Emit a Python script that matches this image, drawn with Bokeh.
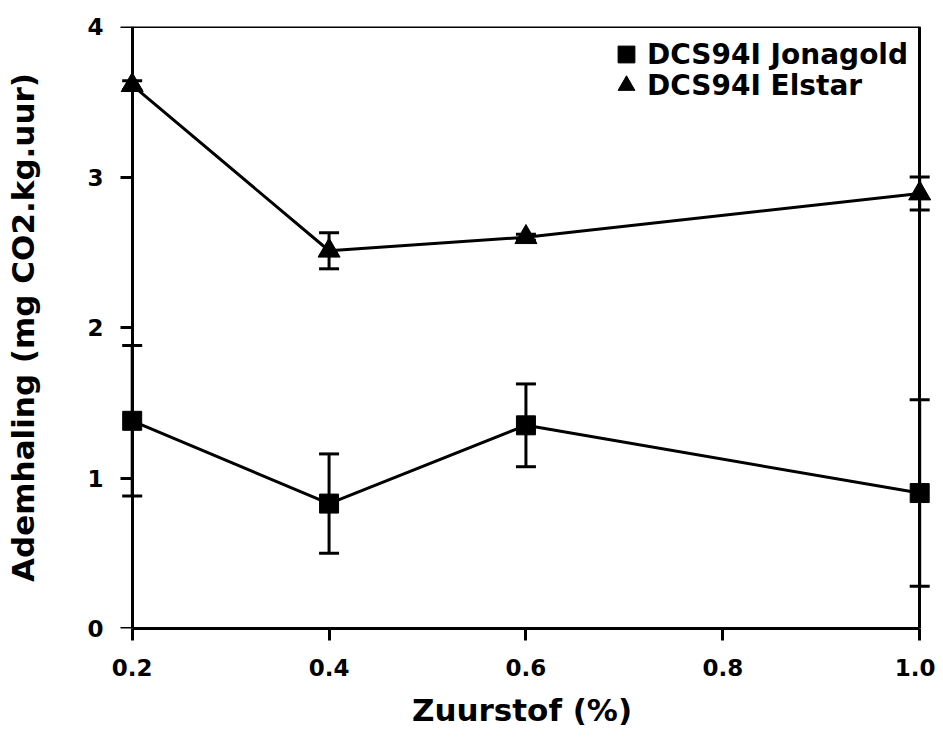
from bokeh.plotting import figure
from bokeh.models import (Range1d, FixedTicker, LinearAxis, Whisker, TeeHead,
                          ColumnDataSource, Legend, LegendItem, PrintfTickFormatter,
                          CustomJSTickFormatter)
from bokeh.embed import file_html
from bokeh.resources import INLINE

# ---- data ----
zuurstof = [0.2, 0.4, 0.6, 1.0]
jonagold = [1.38, 0.83, 1.35, 0.90]
jonagold_err = [0.50, 0.33, 0.275, 0.62]
elstar = [3.61, 2.51, 2.60, 2.89]
elstar_err = [0.03, 0.12, 0.02, 0.11]
x_ticks = [0.2, 0.4, 0.6, 0.8, 1.0]
y_ticks = [0, 1, 2, 3, 4]
series_names = ["DCS94I Jonagold", "DCS94I Elstar"]

FONT = "DejaVu Sans"

src_j = ColumnDataSource(dict(x=zuurstof, y=jonagold,
                              lo=[v - e for v, e in zip(jonagold, jonagold_err)],
                              hi=[v + e for v, e in zip(jonagold, jonagold_err)]))
src_e = ColumnDataSource(dict(x=zuurstof, y=elstar,
                              lo=[v - e for v, e in zip(elstar, elstar_err)],
                              hi=[v + e for v, e in zip(elstar, elstar_err)]))

p = figure(frame_width=819, frame_height=602,
           min_border_left=112, min_border_right=4, min_border_top=26, min_border_bottom=113,
           x_range=Range1d(0.18, 1.012), y_range=Range1d(0, 4),
           output_backend="svg", toolbar_location=None)

p.outline_line_color = None
p.grid.visible = False
p.background_fill_color = "white"

# bottom axis
xa = p.xaxis[0]
xa.ticker = FixedTicker(ticks=x_ticks)
xa.formatter = PrintfTickFormatter(format="%.1f")
xa.bounds = (0.2, 1.0)
xa.axis_label = "Zuurstof (%)"
# left axis (labels only, at frame edge)
ya = p.yaxis[0]
ya.ticker = FixedTicker(ticks=y_ticks)
ya.axis_label = "Ademhaling (mg CO2.kg.uur)"

for ax in (xa, ya):
    ax.axis_line_width = 3
    ax.axis_line_color = "black"
    ax.major_tick_line_width = 3
    ax.major_tick_line_color = "black"
    ax.major_tick_out = 12
    ax.major_tick_in = 0
    ax.minor_tick_line_color = None
    ax.major_label_text_font = FONT
    ax.major_label_text_font_style = "bold"
    ax.major_label_text_font_size = "23px"
    ax.major_label_text_color = "black"
    ax.axis_label_text_font = FONT
    ax.axis_label_text_font_style = "bold"
    ax.axis_label_text_font_size = "31px"
    ax.axis_label_text_color = "black"

ya.axis_line_color = None
ya.major_tick_line_color = None
ya.major_tick_out = 0
ya.major_label_standoff = 9
ya.axis_label_standoff = 43

xa.major_label_standoff = 18
xa.axis_label_standoff = 13

# left axis line + ticks at x = 0.2 (no labels of its own)
yline = LinearAxis(fixed_location=0.2, ticker=FixedTicker(ticks=y_ticks),
                   formatter=CustomJSTickFormatter(code="return ''"),
                   axis_line_width=3, axis_line_color="black",
                   major_tick_line_width=3, major_tick_line_color="black",
                   major_tick_out=12, major_tick_in=0, minor_tick_line_color=None)
p.add_layout(yline, "left")

# frame lines at top and right
top = LinearAxis(fixed_location=4, ticker=FixedTicker(ticks=[]), bounds=(0.2, 1.0),
                 axis_line_width=3, axis_line_color="black",
                 minor_tick_line_color=None, major_tick_line_color=None)
p.add_layout(top, "above")
right = LinearAxis(fixed_location=1.0, ticker=FixedTicker(ticks=[]),
                   axis_line_width=3, axis_line_color="black",
                   minor_tick_line_color=None, major_tick_line_color=None)
p.add_layout(right, "right")

# lines
p.line("x", "y", source=src_j, line_color="black", line_width=3)
p.line("x", "y", source=src_e, line_color="black", line_width=3)

# error bars
for src in (src_j, src_e):
    w = Whisker(source=src, base="x", lower="lo", upper="hi", dimension="height",
                line_color="black", line_width=3,
                upper_head=TeeHead(size=20, line_width=3, line_color="black"),
                lower_head=TeeHead(size=20, line_width=3, line_color="black"))
    p.add_layout(w)

sq = p.scatter("x", "y", source=src_j, marker="square", size=19,
               fill_color="black", line_color="black")
tri = p.scatter("x", "y", source=src_e, marker="triangle", size=22,
                fill_color="black", line_color="black")

legend_style = dict(padding=0, margin=0, spacing=0,
                    glyph_width=42, glyph_height=42, label_standoff=-13,
                    label_text_font=FONT, label_text_font_style="bold",
                    label_text_font_size="28px", label_text_color="black",
                    border_line_color=None, background_fill_alpha=0)
leg1 = Legend(items=[LegendItem(label=series_names[0], renderers=[sq])],
              location=(493, 553), **legend_style)
leg2 = Legend(items=[LegendItem(label=series_names[1], renderers=[tri])],
              location=(493, 522), **legend_style)
p.add_layout(leg1)
p.add_layout(leg2)

open("out.html", "w").write(file_html(p, INLINE))
